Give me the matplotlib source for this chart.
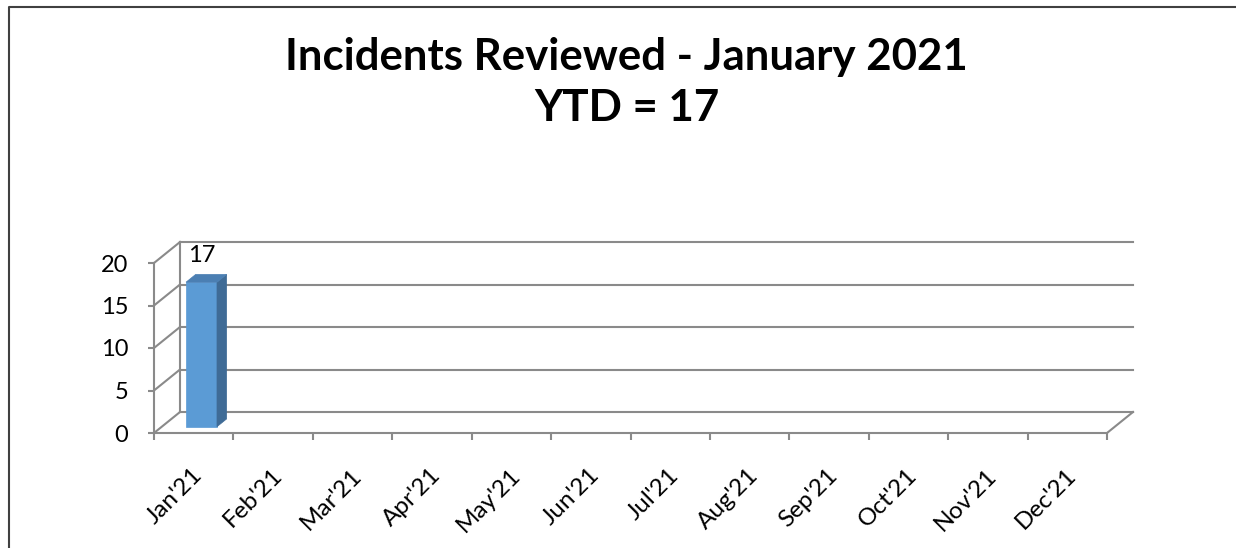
import matplotlib
matplotlib.use("Agg")
import matplotlib.pyplot as plt
from matplotlib.patches import Polygon
from matplotlib.lines import Line2D

# ------ data ------ #
months = ["Jan'21", "Feb'21", "Mar'21", "Apr'21", "May'21", "Jun'21",
          "Jul'21", "Aug'21", "Sep'21", "Oct'21", "Nov'21", "Dec'21"]
incidents = [17]          # only January reported so far
yticks = [0, 5, 10, 15, 20]

plt.rcParams['font.family'] = ['Lato', 'DejaVu Sans']

W, H = 1236, 548
fig = plt.figure(figsize=(W / 100, H / 100), dpi=100)

# front plane of the pseudo 3d box, in pixels
left, right, top, bottom = 154, 1107, 263, 433
ax = fig.add_axes([left / W, 1 - bottom / H, (right - left) / W, (bottom - top) / H])
ax.set_xlim(0, len(months))
ax.set_ylim(0, 20)

# depth offset of the back wall, in data units
DX = 26 / ((right - left) / len(months))
DY = 21 / ((bottom - top) / 20)
grey = '#8a8a8a'
lw = 1.5

#------ walls ------#
for v in yticks:
    ax.plot([DX, len(months) + DX], [v + DY, v + DY], color=grey, lw=lw, clip_on=False)
    ax.plot([0, DX], [v, v + DY], color=grey, lw=lw, clip_on=False)
ax.plot([DX, DX], [DY, 20 + DY], color=grey, lw=lw, clip_on=False)
ax.plot([len(months), len(months) + DX], [0, DY], color=grey, lw=lw, clip_on=False)

#------ bars ------#
bw = 0.39
fd, bd = 0.3, 0.67
for i, v in enumerate(incidents):
    x0 = i + 0.5 - bw / 2 + fd * DX
    x1 = i + 0.5 + bw / 2 + fd * DX
    y0 = fd * DY
    sx = (bd - fd) * DX
    sy = (bd - fd) * DY
    front = [(x0, y0), (x1, y0), (x1, y0 + v), (x0, y0 + v)]
    side = [(x1, y0), (x1 + sx, y0 + sy), (x1 + sx, y0 + v + sy), (x1, y0 + v)]
    topf = [(x0, y0 + v), (x1, y0 + v), (x1 + sx, y0 + v + sy), (x0 + sx, y0 + v + sy)]
    ax.add_patch(Polygon(front, closed=True, fc='#5b9bd5', ec='#5b9bd5', lw=0.5, clip_on=False, zorder=5))
    ax.add_patch(Polygon(side, closed=True, fc='#3f6b96', ec='#3f6b96', lw=0.5, clip_on=False, zorder=5))
    ax.add_patch(Polygon(topf, closed=True, fc='#4b7fb3', ec='#4b7fb3', lw=0.5, clip_on=False, zorder=5))
    ax.annotate(str(v), ((x0 + x1) / 2, y0 + v), xytext=(0, 19), textcoords='offset points',
                ha='center', va='center', fontsize=17, zorder=6)

#------ axes ------#
for s in ['top', 'right']:
    ax.spines[s].set_visible(False)
for s in ['left', 'bottom']:
    ax.spines[s].set_color(grey)
    ax.spines[s].set_linewidth(lw)
ax.set_yticks(yticks)
ax.set_yticklabels([str(t) for t in yticks], fontsize=17)
ax.set_xticks(range(len(months) + 1))
ax.set_xticklabels([])
ax.tick_params(axis='y', length=4.5, width=lw, color=grey, pad=14)
ax.tick_params(axis='x', length=5, width=lw, color=grey)

for i, m in enumerate(months):
    ax.annotate(m, (i + 0.5, 0), xytext=(4, -28), textcoords='offset points',
                rotation=45, rotation_mode='anchor', ha='right', va='center', fontsize=17.5)

#------ title ------#
fig.text(0.507, 1 - 57 / H, "Incidents Reviewed - January 2021", ha='center', va='center',
         fontsize=31.5, fontweight='bold')
fig.text(0.507, 1 - 108 / H, "YTD = 17", ha='center', va='center', fontsize=31.5, fontweight='bold')

# chart border (left and top visible)
fig.add_artist(Line2D([8.5 / W, 8.5 / W, 1], [0, 1 - 6.5 / H, 1 - 6.5 / H],
                      color='#404040', lw=1.5, transform=fig.transFigure))

plt.savefig('out.png', dpi=100)
